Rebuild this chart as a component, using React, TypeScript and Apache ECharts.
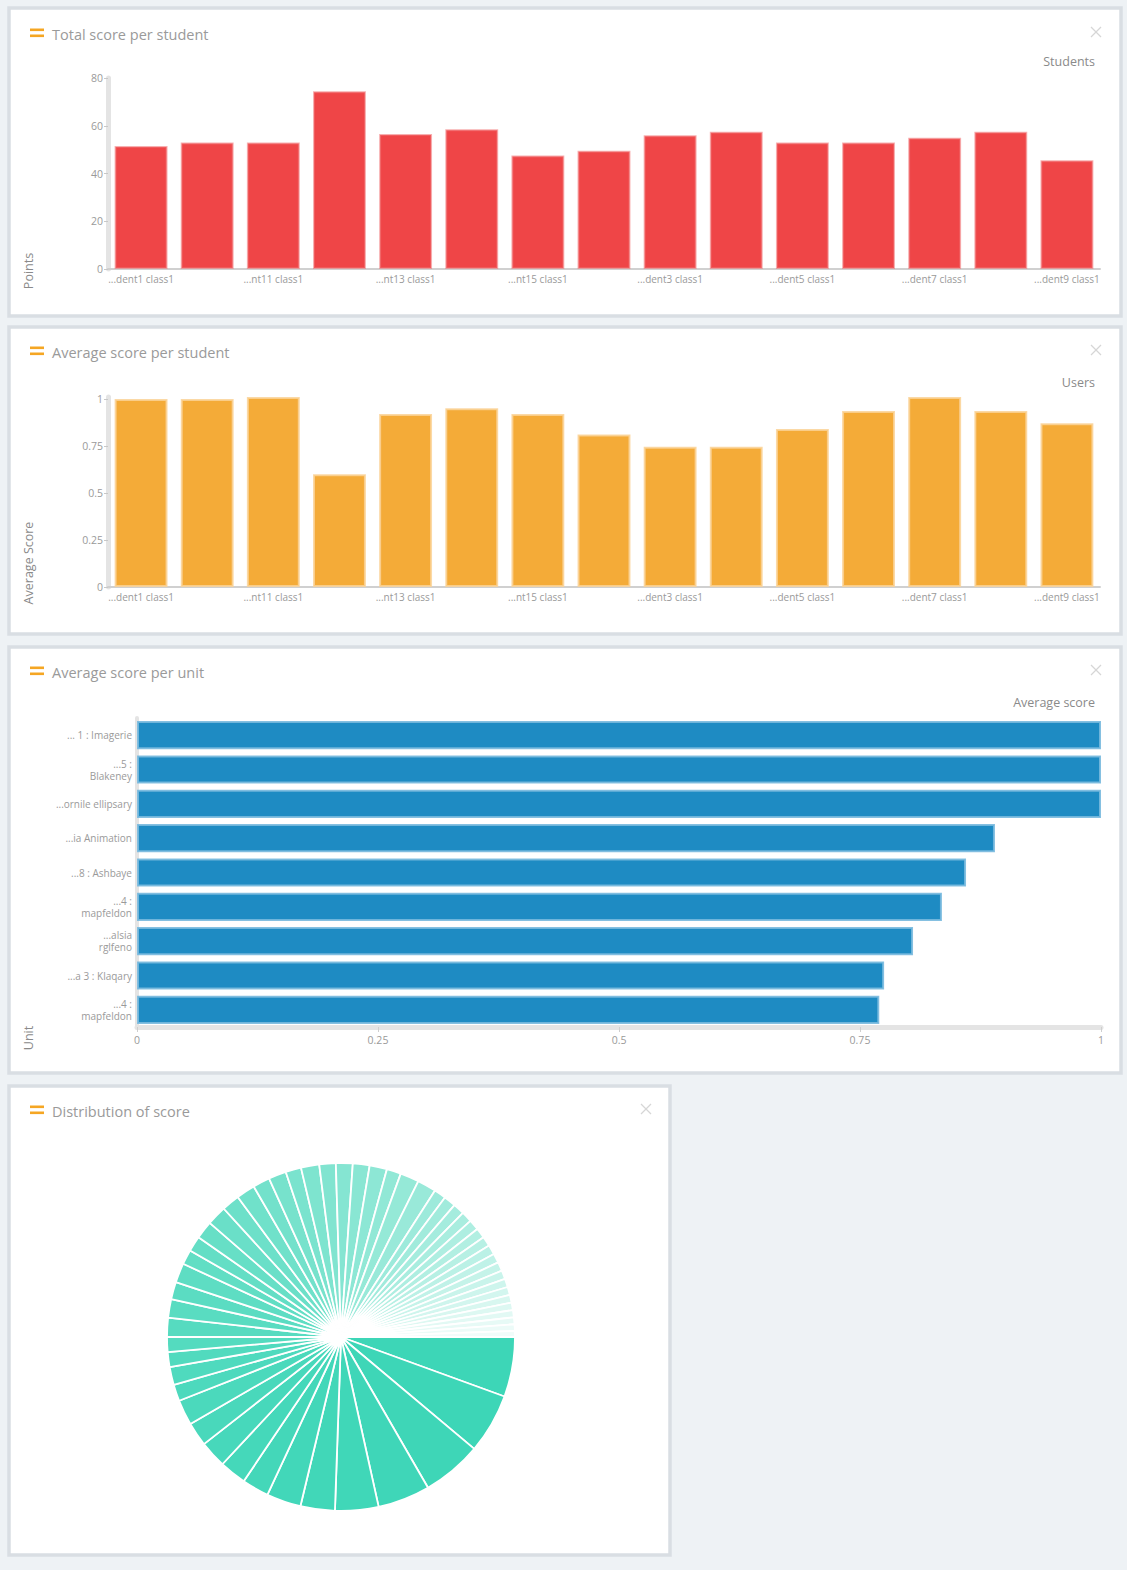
import React, { useEffect, useRef } from "react";
import * as echarts from "echarts";

// ---------- data ----------
const students = [
  "Student1 class1", "Student10 class1", "Student11 class1", "Student12 class1",
  "Student13 class1", "Student14 class1", "Student15 class1", "Student2 class1",
  "Student3 class1", "Student4 class1", "Student5 class1", "Student6 class1",
  "Student7 class1", "Student8 class1", "Student9 class1",
];
const totalScores = [51.5, 53, 53, 74.5, 56.5, 58.5, 47.5, 49.5, 56, 57.5, 53, 53, 55, 57.5, 45.5];
const averageScores = [1, 1, 1.01, 0.6, 0.92, 0.95, 0.92, 0.81, 0.745, 0.745, 0.84, 0.935, 1.01, 0.935, 0.87];

const units = [
  "... 1 : Imagerie",
  "...5 :\nBlakeney",
  "...ornile ellipsary",
  "...ia Animation",
  "...8 : Ashbaye",
  "...4 :\nmapfeldon",
  "...alsia\nrglfeno",
  "...a 3 : Klaqary",
  "...4 :\nmapfeldon",
];
const unitScores = [1, 1, 1, 0.89, 0.86, 0.835, 0.805, 0.775, 0.77];

const scoreShares = [
  20, 20, 20, 17.5, 14.5, 11.5, 11.5, 9, 9, 9, 8, 8.5, 5.5, 6, 5, 5,
  6.4, 6.2, 5.8, 6.5, 4.9, 5.2, 6, 6.6, 6, 6.3, 5.7, 5.9, 5.2, 6.1, 5.5,
  5.6, 5.6, 5.8, 4.8, 6.3, 6.3,
  4, 4, 3.8, 3.6, 3.5, 3.4, 3.3, 3.2, 3.1, 3, 2.9, 2.8, 2.7, 2.6, 2.5, 2.4, 2.3, 2.2, 2,
];

const panelTitles = ["Total score per student", "Average score per student", "Average score per unit", "Distribution of score"];

// ---------- helpers ----------
const FONT = "'Open Sans', 'Liberation Sans', sans-serif";
const LABEL_COLOR = "#9a9a9a";

function shortName(v: string) {
  return "..." + v.slice(-(v.length > 15 ? 11 : 12));
}

function sliceColor(i: number, n: number) {
  const t = Math.pow(i / (n - 1), 1.6) * 0.93;
  const a = [61, 214, 183];
  const b = [255, 255, 255];
  const c = a.map((v, k) => Math.round(v + (b[k] - v) * t));
  return `rgb(${c[0]},${c[1]},${c[2]})`;
}

const panels = [
  { x: 9, y: 8, w: 1112, h: 308, closeX: 1096, titleY: 34 },
  { x: 9, y: 327, w: 1112, h: 307, closeX: 1096, titleY: 352 },
  { x: 9, y: 647, w: 1112, h: 426, closeX: 1096, titleY: 672 },
  { x: 9, y: 1086, w: 661, h: 469, closeX: 646, titleY: 1111 },
];

export default function App() {
  const ref = useRef<HTMLDivElement>(null);

  useEffect(() => {
    if (!ref.current) return;
    const chart = echarts.init(ref.current, undefined, { renderer: "svg" });

    const graphic: any[] = [];
    panels.forEach((p, idx) => {
      graphic.push({
        type: "rect", silent: true, z: -10,
        shape: { x: p.x, y: p.y, width: p.w, height: p.h },
        style: { fill: "#ffffff", stroke: "#d9dee3", lineWidth: 3.5 },
      });
      graphic.push({
        type: "rect", silent: true, z: 10,
        shape: { x: 30, y: p.titleY - 5.5, width: 14, height: 2.6 },
        style: { fill: "#f5a623" },
      });
      graphic.push({
        type: "rect", silent: true, z: 10,
        shape: { x: 30, y: p.titleY + 0.5, width: 14, height: 2.6 },
        style: { fill: "#f5a623" },
      });
      graphic.push({
        type: "text", silent: true, z: 10,
        style: {
          x: 52, y: p.titleY, text: panelTitles[idx], fill: "#9a9a9a",
          font: `14.5px ${FONT}`, textVerticalAlign: "middle",
        },
      });
      const cx = p.closeX, cy = p.titleY - 2;
      graphic.push({
        type: "line", silent: true, z: 10,
        shape: { x1: cx - 5, y1: cy - 5, x2: cx + 5, y2: cy + 5 },
        style: { stroke: "#d6d6d6", lineWidth: 1.3 },
      });
      graphic.push({
        type: "line", silent: true, z: 10,
        shape: { x1: cx + 5, y1: cy - 5, x2: cx - 5, y2: cy + 5 },
        style: { stroke: "#d6d6d6", lineWidth: 1.3 },
      });
    });

    const axisNames = [
      { text: "Students", x: 1095, y: 61, rot: 0 },
      { text: "Users", x: 1095, y: 382, rot: 0 },
      { text: "Average score", x: 1095, y: 702, rot: 0 },
      { text: "Points", x: 28, y: 271, rot: Math.PI / 2 },
      { text: "Average Score", x: 28, y: 563, rot: Math.PI / 2 },
      { text: "Unit", x: 28, y: 1038, rot: Math.PI / 2 },
    ];
    axisNames.forEach((a) => {
      graphic.push({
        type: "text", silent: true, z: 10,
        x: a.x, y: a.y, rotation: a.rot,
        style: {
          x: 0, y: 0, text: a.text, fill: "#8a8a8a", font: `12.5px ${FONT}`,
          textAlign: a.rot ? "center" : "right", textVerticalAlign: "middle",
        },
      });
    });

    const W = 1127, H = 1570;
    const xLabel = { color: LABEL_COLOR, fontSize: 10, fontFamily: FONT };

    chart.setOption({
      animation: false,
      backgroundColor: "#eef2f5",
      textStyle: { fontFamily: FONT },
      graphic,
      grid: [
        { left: 108, right: W - 1100, top: 78, bottom: H - 269 },
        { left: 108, right: W - 1100, top: 397, bottom: H - 587 },
        { left: 137, right: W - 1101, top: 718, bottom: H - 1027 },
      ],
      xAxis: [
        {
          type: "category", gridIndex: 0, data: students,
          axisLine: { lineStyle: { color: "#d0d0d0", width: 2 } },
          axisTick: { alignWithLabel: true, interval: 1, length: 3, lineStyle: { color: "#d6d6d6" } },
          axisLabel: { ...xLabel, interval: 1, margin: 5, formatter: shortName },
        },
        {
          type: "category", gridIndex: 1, data: students,
          axisLine: { lineStyle: { color: "#d0d0d0", width: 2 } },
          axisTick: { alignWithLabel: true, interval: 1, length: 3, lineStyle: { color: "#d6d6d6" } },
          axisLabel: { ...xLabel, interval: 1, margin: 5, formatter: shortName },
        },
        {
          type: "value", gridIndex: 2, min: 0, max: 1, interval: 0.25,
          splitLine: { show: false },
          axisLine: { show: true, lineStyle: { color: "#e4e4e4", width: 5 } },
          axisTick: { show: true, length: 5, lineStyle: { color: "#cfcfcf" } },
          axisLabel: { color: LABEL_COLOR, fontSize: 10.5, margin: 7 },
        },
      ],
      yAxis: [
        {
          type: "value", gridIndex: 0, min: 0, max: 80, interval: 20,
          splitLine: { show: false },
          axisLine: { show: true, lineStyle: { color: "#e4e4e4", width: 5 } },
          axisTick: { show: true, length: 4, lineStyle: { color: "#c8c8c8" } },
          axisLabel: { color: LABEL_COLOR, fontSize: 10.5, margin: 5 },
        },
        {
          type: "value", gridIndex: 1, min: 0, max: "dataMax", interval: 0.25,
          splitLine: { show: false },
          axisLine: { show: true, lineStyle: { color: "#e4e4e4", width: 5 } },
          axisTick: { show: true, length: 4, lineStyle: { color: "#c8c8c8" } },
          axisLabel: { color: LABEL_COLOR, fontSize: 10.5, margin: 5, showMaxLabel: false },
        },
        {
          type: "category", gridIndex: 2, data: units, inverse: true,
          axisLine: { lineStyle: { color: "#e4e4e4", width: 4 } },
          axisTick: { length: 3, lineStyle: { color: "#cfcfcf" } },
          axisLabel: { color: LABEL_COLOR, fontSize: 10, margin: 5, lineHeight: 12 },
        },
      ],
      series: [
        {
          type: "bar", xAxisIndex: 0, yAxisIndex: 0, data: totalScores,
          barCategoryGap: "20%",
          itemStyle: { color: "#ef4547", borderColor: "rgba(240,110,112,0.55)", borderWidth: 2 },
        },
        {
          type: "bar", xAxisIndex: 1, yAxisIndex: 1, data: averageScores,
          barCategoryGap: "20%",
          itemStyle: { color: "#f4ab38", borderColor: "rgba(250,210,150,0.85)", borderWidth: 2 },
        },
        {
          type: "bar", xAxisIndex: 2, yAxisIndex: 2, data: unitScores,
          barCategoryGap: "18%",
          itemStyle: { color: "#1e8bc3", borderColor: "rgba(120,185,222,0.9)", borderWidth: 2 },
        },
        {
          type: "pie",
          center: [341, 1337],
          radius: 174,
          startAngle: 0,
          clockwise: true,
          label: { show: false },
          labelLine: { show: false },
          itemStyle: { borderColor: "#ffffff", borderWidth: 1.8 },
          data: scoreShares.map((v, i) => ({
            name: `Score ${i + 1}`,
            value: v,
            itemStyle: { color: sliceColor(i, scoreShares.length) },
          })),
        },
      ],
    });

    return () => chart.dispose();
  }, []);

  return (
    <div
      ref={ref}
      style={{ position: "absolute", left: 0, top: 0, width: 1127, height: 1570 }}
    />
  );
}
